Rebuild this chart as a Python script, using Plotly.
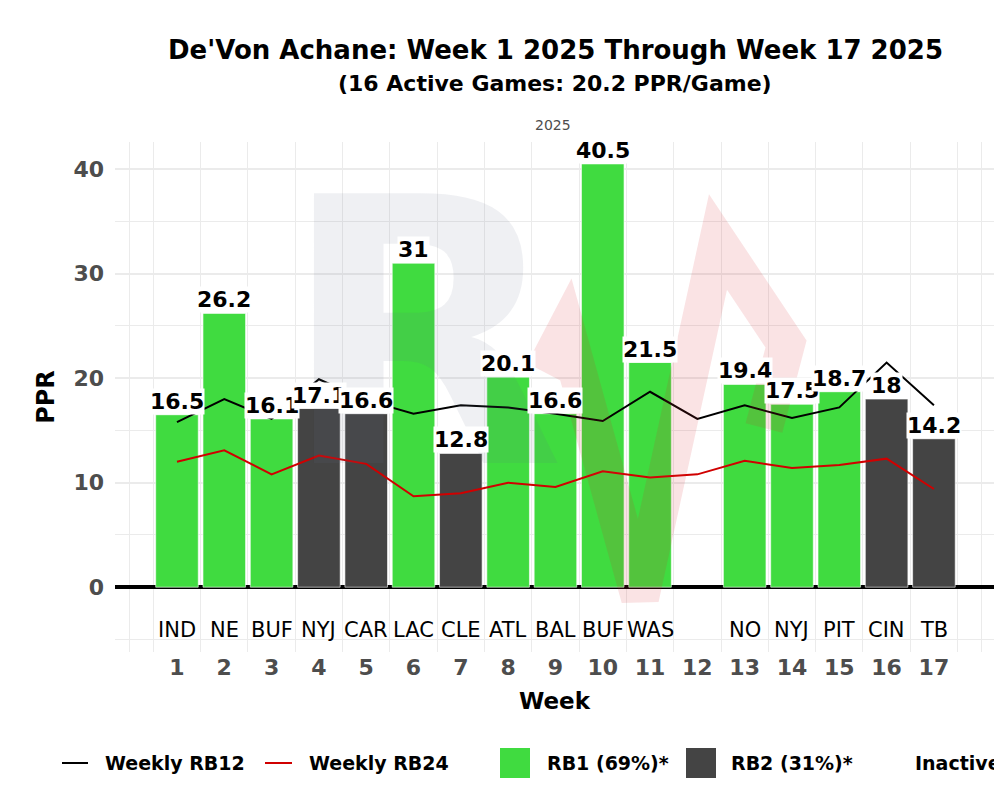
import plotly.graph_objects as go

# weekly data
weeks = list(range(1, 18))
opponents = ["IND", "NE", "BUF", "NYJ", "CAR", "LAC", "CLE", "ATL", "BAL",
             "BUF", "WAS", "", "NO", "NYJ", "PIT", "CIN", "TB"]
ppr = [16.5, 26.2, 16.1, 17.1, 16.6, 31, 12.8, 20.1, 16.6, 40.5, 21.5, None,
       19.4, 17.5, 18.7, 18, 14.2]
role = ["RB1", "RB1", "RB1", "RB2", "RB2", "RB1", "RB2", "RB1", "RB1", "RB1",
        "RB1", None, "RB1", "RB1", "RB1", "RB2", "RB2"]
rb12 = [15.8, 18.0, 16.1, 19.9, 17.9, 16.6, 17.4, 17.2, 16.6, 15.9, 18.7, 16.1,
        17.4, 16.2, 17.2, 21.5, 17.4]
rb24 = [12.0, 13.1, 10.8, 12.6, 11.8, 8.7, 9.0, 10.0, 9.6, 11.1, 10.5, 10.8,
        12.1, 11.4, 11.7, 12.3, 9.4]

title = "De'Von Achane: Week 1 2025 Through Week 17 2025"
subtitle = "(16 Active Games: 20.2 PPR/Game)"
season = "2025"
legend_names = ["Weekly RB12", "Weekly RB24", "RB1 (69%)*", "RB2 (31%)*", "Inactive"]

GREEN = "#40DB40"
DARK = "#444444"
GRID = "#EBEBEB"
FONT = "DejaVu Sans"

W, H = 1002, 794
OFF = 8  # page body margin
# panel edges in screen pixels: 115..994 x 142..652
L, R, T, B = 115 - OFF, W - 994 + OFF, 142 - OFF, H - 652 + OFF


def px(x):
    return (x - OFF - L) / (W - L - R)


def py(y):
    return (H - B - (y - OFF)) / (H - T - B)


fig = go.Figure()

for r, col in [("RB1", GREEN), ("RB2", DARK)]:
    xs = [w for w, rr in zip(weeks, role) if rr == r]
    ys = [v for v, rr in zip(ppr, role) if rr == r]
    fig.add_trace(go.Bar(x=xs, y=ys, width=0.9, marker_color=col,
                         marker_line=dict(color="rgba(255,255,255,0.6)", width=1),
                         name=r, showlegend=False))

fig.add_trace(go.Scatter(x=weeks, y=rb12, mode="lines", line=dict(color="black", width=2),
                         name=legend_names[0], showlegend=False))
fig.add_trace(go.Scatter(x=weeks, y=rb24, mode="lines", line=dict(color="#D00000", width=2),
                         name=legend_names[1], showlegend=False))

# watermark (logo-ish)
fig.add_annotation(text="R", x=px(422), y=py(335), xref="paper", yref="paper",
                   showarrow=False, xanchor="center", yanchor="middle",
                   font=dict(family=FONT, size=370, weight="bold", color="rgba(100,110,140,0.10)"))
zig = [(544, 372), (566, 330), (640, 598), (718, 242), (786, 344), (764, 428)]
path = "M " + " L ".join(f"{px(a):.4f},{py(b):.4f}" for a, b in zig)
fig.add_shape(type="path", path=path, xref="paper", yref="paper", layer="above",
              line=dict(color="rgba(220,40,50,0.13)", width=38))

# bar value labels
for w, v in zip(weeks, ppr):
    if v is None:
        continue
    fig.add_annotation(x=w, y=v, text=f"{v:g}", showarrow=False, yanchor="bottom",
                       bgcolor="white", borderpad=0,
                       font=dict(family=FONT, size=22, weight="bold", color="black"))

# opponent row
for w, o in zip(weeks, opponents):
    if o:
        fig.add_annotation(x=w, y=py(630), yref="paper", yanchor="middle", text=o,
                           showarrow=False, font=dict(family=FONT, size=21, color="black"))

# titles
fig.add_annotation(text=title, x=px(555), y=py(50), xref="paper", yref="paper",
                   xanchor="center", yanchor="middle", showarrow=False,
                   font=dict(family=FONT, size=26, weight="bold", color="black"))
fig.add_annotation(text=subtitle, x=px(555), y=py(84), xref="paper", yref="paper",
                   xanchor="center", yanchor="middle", showarrow=False,
                   font=dict(family=FONT, size=22, weight="bold", color="black"))
fig.add_annotation(text=season, x=px(553), y=py(125), xref="paper", yref="paper",
                   xanchor="center", yanchor="middle", showarrow=False,
                   font=dict(family=FONT, size=14, color="#4D4D4D"))

# legend drawn by hand to get the large ggplot keys
ly = 763
for (x0, x1), col in [((62, 88), "black"), ((265, 292), "#D00000")]:
    fig.add_shape(type="line", x0=px(x0), x1=px(x1), y0=py(ly), y1=py(ly),
                  xref="paper", yref="paper", line=dict(color=col, width=2))
for (x0, x1), col in [((500, 530), GREEN), ((686, 716), DARK)]:
    fig.add_shape(type="rect", x0=px(x0), x1=px(x1), y0=py(ly - 15), y1=py(ly + 15),
                  xref="paper", yref="paper", fillcolor=col, line=dict(width=0))
for name, x0 in zip(legend_names, [103, 307, 545, 729, 913]):
    fig.add_annotation(text=name, x=px(x0), y=py(ly), xref="paper", yref="paper",
                       xanchor="left", yanchor="middle", showarrow=False,
                       font=dict(family=FONT, size=19, weight="bold", color="black"))

grid_x = [0] + [w - 0.5 for w in weeks] + [weeks[-1] + 0.5, 18]

fig.update_layout(
    width=W, height=H,
    margin=dict(l=L, r=R, t=T, b=B),
    plot_bgcolor="white", paper_bgcolor="white",
    showlegend=False, barmode="overlay",
    xaxis=dict(range=[-0.31, 18.27], tickvals=weeks, ticktext=[str(w) for w in weeks],
               showgrid=False, zeroline=False, ticks="", ticklabelstandoff=0,
               tickfont=dict(family=FONT, size=22, weight="bold", color="#4D4D4D"),
               minor=dict(tickvals=grid_x, showgrid=True, gridcolor=GRID, gridwidth=1.2),
               title=dict(text="Week", standoff=13,
                          font=dict(family=FONT, size=23, weight="bold", color="black"))),
    yaxis=dict(range=[-6.2, 42.6], tickvals=[0, 10, 20, 30, 40],
               showgrid=True, gridcolor=GRID, gridwidth=1.5,
               zeroline=True, zerolinecolor="black", zerolinewidth=4,
               ticks="", ticklabelstandoff=10,
               tickfont=dict(family=FONT, size=22, weight="bold", color="#4D4D4D"),
               minor=dict(tickvals=[-5, 5, 15, 25, 35], showgrid=True, gridcolor=GRID, gridwidth=1.2),
               title=dict(text="PPR", standoff=11,
                          font=dict(family=FONT, size=24, weight="bold", color="black"))),
)

fig.write_html("out.html")
